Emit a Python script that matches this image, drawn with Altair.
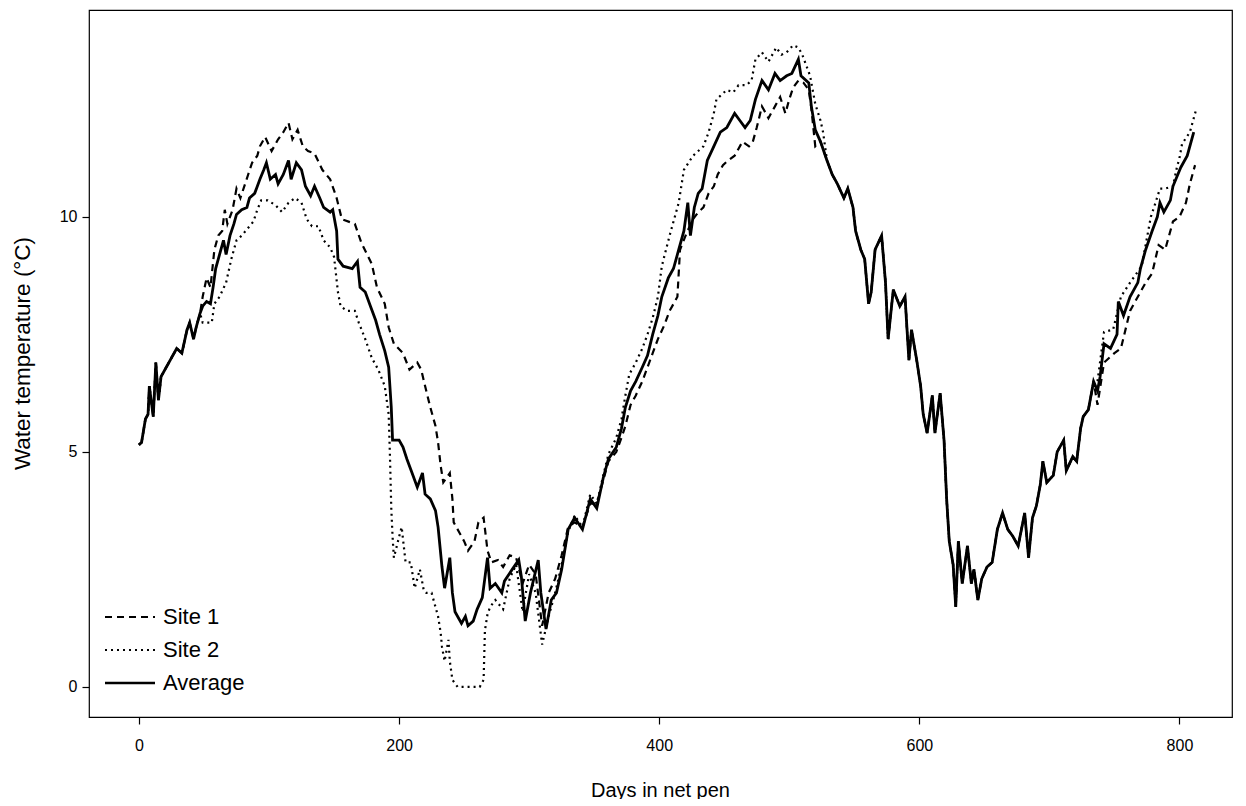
import altair as alt
import pandas as pd

# ---------------- data ----------------
# Segment where all three series lie on top of each other (start)
start_days = [0, 2, 5, 7, 8, 11, 13, 15, 17, 21, 25, 29, 33, 37, 39, 42, 44, 47]
start_temps = [5.15, 5.2, 5.7, 5.8, 6.4, 5.75, 6.9, 6.1, 6.6, 6.8, 7.0, 7.2, 7.1, 7.6, 7.75, 7.4, 7.65, 7.95]

# Segment where all three series lie on top of each other (late)
late_days = [529, 533, 537, 542, 545, 549, 551, 555, 558, 561, 563, 566, 571, 574, 576, 580,
             585, 589, 592, 594, 598, 601, 603, 606, 610, 612, 616, 619, 621, 623, 626, 628,
             630, 633, 637, 640, 642, 645, 648, 652, 656, 660, 664, 668, 672, 676, 681, 684,
             687, 690, 693, 695, 698, 703, 706, 711, 713, 718, 721, 724, 726, 730, 734]
late_temps = [11.2, 10.9, 10.7, 10.4, 10.6, 10.2, 9.7, 9.3, 9.1, 8.15, 8.4, 9.3, 9.6, 8.6, 7.4, 8.45,
              8.1, 8.3, 6.95, 7.6, 6.95, 6.4, 5.8, 5.4, 6.2, 5.4, 6.25, 5.25, 4.0, 3.1, 2.6, 1.7,
              3.1, 2.2, 3.0, 2.2, 2.5, 1.85, 2.3, 2.55, 2.65, 3.35, 3.7, 3.35, 3.2, 3.0, 3.7, 2.75,
              3.6, 3.85, 4.3, 4.8, 4.35, 4.5, 5.0, 5.25, 4.6, 4.9, 4.8, 5.5, 5.75, 5.9, 6.5]

avg_days = [49, 52, 55, 57, 59, 62, 65, 67, 70, 73, 75, 79, 83, 85, 89, 93, 96, 98, 101, 105,
            107, 111, 115, 117, 121, 125, 128, 132, 135, 139, 142, 147, 149, 152, 153, 157, 164,
            168, 170, 174, 178, 182, 185, 189, 192, 194, 195, 200, 203, 206, 210, 214, 218, 220,
            224, 228, 230, 233, 235, 239, 241, 243, 248, 251, 253, 257, 260, 264, 268, 270, 274,
            279, 281, 287, 292, 294, 297, 301, 307, 309, 313, 317, 321, 325, 330, 335, 341, 347,
            352, 357, 361, 367, 371, 374, 378, 382, 387, 391, 395, 399, 402, 407, 411, 415, 419,
            422, 424, 427, 430, 433, 437, 442, 447, 452, 458, 462, 466, 470, 474, 479, 484, 489,
            493, 498, 502, 507, 509, 515, 517, 520, 524]
avg_temps = [8.1, 8.2, 8.15, 8.5, 8.9, 9.2, 9.5, 9.2, 9.6, 9.85, 10.05, 10.15, 10.2, 10.4, 10.5,
             10.8, 11.0, 11.15, 10.8, 10.9, 10.7, 10.9, 11.2, 10.8, 11.15, 11.0, 10.65, 10.45,
             10.65, 10.4, 10.2, 10.1, 10.15, 9.7, 9.1, 8.95, 8.9, 9.05, 8.5, 8.4, 8.1, 7.8, 7.5,
             7.15, 6.8, 5.95, 5.25, 5.25, 5.1, 4.85, 4.55, 4.25, 4.55, 4.1, 4.0, 3.75, 3.4, 2.55,
             2.1, 2.75, 2.0, 1.6, 1.35, 1.5, 1.3, 1.4, 1.65, 1.9, 2.75, 2.1, 2.2, 2.0, 2.25, 2.5,
             2.7, 2.35, 1.4, 2.0, 2.7, 2.0, 1.23, 1.85, 2.0, 2.5, 3.35, 3.6, 3.35, 4.0, 3.8, 4.45,
             4.85, 5.1, 5.5, 5.95, 6.3, 6.5, 6.8, 7.05, 7.5, 7.9, 8.3, 8.7, 8.9, 9.3, 9.7, 10.3,
             9.6, 10.2, 10.5, 10.6, 11.2, 11.5, 11.8, 11.9, 12.2, 12.05, 11.9, 12.05, 12.5, 12.9,
             12.7, 13.05, 12.9, 13.0, 13.05, 13.35, 13.0, 12.85, 12.35, 11.85, 11.6]
avg_end_days = [737, 739, 742, 747, 752, 753, 757, 762, 768, 770, 774, 779, 783, 785, 788, 793,
                795, 801, 806, 811]
avg_end_temps = [6.3, 6.6, 7.3, 7.2, 7.5, 8.2, 7.9, 8.3, 8.6, 8.9, 9.3, 9.7, 10.0, 10.3, 10.1,
                 10.35, 10.65, 11.05, 11.3, 11.8]

site1_days = [49, 52, 55, 58, 61, 64, 66, 68, 72, 75, 78, 84, 87, 91, 93, 97, 102, 107, 111, 115,
              118, 122, 126, 130, 135, 141, 147, 152, 156, 166, 171, 179, 183, 189, 192, 196, 203,
              208, 214, 217, 220, 224, 228, 230, 232, 234, 239, 241, 242, 246, 250, 253, 258, 261,
              265, 268, 271, 276, 280, 285, 290, 295, 300, 305, 310, 315, 320, 325, 330, 335, 341,
              347, 352, 357, 361, 367, 371, 374, 378, 382, 387, 391, 395, 399, 404, 408, 414, 416,
              421, 426, 430, 434, 438, 442, 445, 449, 453, 458, 461, 464, 469, 472, 475, 479, 484,
              489, 493, 497, 500, 503, 507, 511, 515, 517, 520, 524]
site1_temps = [8.3, 8.7, 8.5, 9.3, 9.6, 9.7, 10.15, 9.85, 10.15, 10.6, 10.4, 10.9, 11.15, 11.3,
               11.5, 11.7, 11.4, 11.65, 11.8, 12.0, 11.65, 11.85, 11.5, 11.4, 11.35, 11.0, 10.8,
               10.4, 9.95, 9.85, 9.45, 9.0, 8.5, 8.15, 7.65, 7.3, 7.1, 6.75, 6.9, 6.75, 6.4, 5.95,
               5.55, 5.2, 4.7, 4.35, 4.55, 4.0, 3.5, 3.3, 3.1, 2.9, 3.1, 3.5, 3.6, 2.9, 2.65, 2.7,
               2.55, 2.8, 2.75, 2.2, 2.6, 2.4, 1.3, 2.0, 2.3, 2.8, 3.4, 3.5, 3.4, 3.9, 3.9, 4.4,
               4.8, 5.0, 5.3, 5.55, 6.0, 6.2, 6.5, 6.8, 7.1, 7.4, 7.7, 8.0, 8.3, 9.3, 9.65, 9.95,
               10.1, 10.2, 10.5, 10.65, 10.9, 11.1, 11.2, 11.3, 11.45, 11.6, 11.5, 11.6, 11.9,
               12.35, 12.1, 12.35, 12.55, 12.2, 12.5, 12.75, 12.9, 12.85, 12.7, 12.3, 11.5, 11.6]
site1_end_days = [737, 742, 750, 755, 762, 768, 774, 779, 784, 789, 795, 800, 805, 808, 812]
site1_end_temps = [6.0, 6.9, 7.1, 7.2, 8.0, 8.3, 8.6, 8.8, 9.4, 9.3, 9.9, 10.0, 10.3, 10.7, 11.1]

site2_days = [49, 56, 58, 62, 67, 71, 75, 79, 85, 88, 91, 94, 99, 105, 110, 115, 120, 125, 129,
              133, 138, 142, 147, 150, 152, 153, 155, 160, 166, 169, 174, 179, 184, 189, 192, 193,
              194, 195, 196, 201, 202, 205, 209, 212, 216, 219, 221, 225, 228, 230, 232, 233, 235,
              238, 239, 241, 245, 262, 265, 266, 268, 270, 274, 280, 285, 290, 295, 300, 305, 310,
              315, 320, 325, 330, 335, 341, 347, 352, 357, 361, 367, 371, 374, 377, 382, 387, 391,
              395, 399, 402, 408, 415, 419, 426, 434, 438, 442, 444, 452, 457, 461, 467, 471, 474,
              479, 484, 490, 494, 498, 503, 507, 510, 512, 516, 520, 524, 526]
site2_temps = [7.75, 7.75, 8.15, 8.3, 8.6, 9.1, 9.5, 9.6, 9.8, 9.9, 10.15, 10.35, 10.35, 10.25,
               10.1, 10.3, 10.4, 10.3, 9.95, 9.8, 9.8, 9.5, 9.35, 9.15, 8.65, 8.4, 8.1, 8.0, 8.0,
               7.75, 7.4, 7.0, 6.75, 6.4, 5.8, 4.9, 3.8, 3.2, 2.75, 3.3, 3.4, 2.65, 2.65, 2.1, 2.5,
               2.05, 2.0, 2.0, 1.7, 1.5, 1.15, 0.85, 0.55, 1.0, 0.55, 0.15, 0.0, 0.0, 0.15, 1.2,
               1.55, 1.7, 1.85, 1.65, 2.3, 2.6, 1.6, 2.4, 2.0, 0.9, 1.5, 2.0, 2.6, 3.3, 3.65, 3.4,
               4.1, 3.9, 4.5, 4.95, 5.3, 5.7, 6.2, 6.65, 6.9, 7.2, 7.5, 7.85, 8.3, 8.95, 9.6,
               10.3, 11.0, 11.3, 11.5, 11.8, 12.2, 12.5, 12.7, 12.65, 12.8, 12.8, 12.9, 13.35,
               13.5, 13.3, 13.6, 13.45, 13.5, 13.65, 13.6, 13.45, 13.3, 13.0, 12.4, 12.05, 11.8]
site2_end_days = [737, 742, 749, 755, 762, 771, 778, 781, 785, 789, 795, 798, 800, 802, 808, 810, 813]
site2_end_temps = [6.5, 7.55, 7.6, 8.3, 8.6, 8.95, 10.0, 10.25, 10.6, 10.6, 10.65, 11.05, 11.25,
                   11.55, 11.8, 12.0, 12.3]

series_names = ["Site 1", "Site 2", "Average"]
legend_labels = ["Site 1", "Site 2", "Average"]
x_ticks = [0, 200, 400, 600, 800]
y_ticks = [0, 5, 10]


def build(name, mid_d, mid_t, end_d, end_t):
    d = start_days + mid_d + late_days + end_d
    t = start_temps + mid_t + late_temps + end_t
    return pd.DataFrame({"day": d, "temp": t, "series": name})


df_s1 = build(series_names[0], site1_days, site1_temps, site1_end_days, site1_end_temps)
df_s2 = build(series_names[1], site2_days, site2_temps, site2_end_days, site2_end_temps)
df_av = build(series_names[2], avg_days, avg_temps, avg_end_days, avg_end_temps)

FONT = "Liberation Sans"
W, H = 1143, 707

xs = alt.Scale(domain=[-38.4, 840.4], nice=False, zero=False)
ys = alt.Scale(domain=[-0.64, 14.4], nice=False, zero=False)

x_enc = alt.X("day:Q", scale=xs, axis=alt.Axis(
    values=x_ticks, title="Days in net pen", domain=False, grid=False,
    tickSize=7, tickColor="black", tickWidth=1.2, labelPadding=13, labelFontSize=16,
    labelColor="black", labelFont=FONT, titleFont=FONT, titleFontSize=20,
    titleFontWeight="normal", titleColor="black", titleX=571, titleY=73,
    titleBaseline="middle", titleAlign="center"))
y_enc = alt.Y("temp:Q", scale=ys, axis=alt.Axis(
    values=y_ticks, title="Water temperature (°C)", domain=False, grid=False,
    tickSize=7, tickColor="black", tickWidth=1.2, labelPadding=5, labelFontSize=16,
    labelColor="black", labelFont=FONT, titleFont=FONT, titleFontSize=22.5,
    titleFontWeight="normal", titleColor="black", titleX=-67, titleY=343,
    titleAngle=270, titleBaseline="middle", titleAlign="center"))


def line(df, dash, width):
    kw = dict(color="black", strokeWidth=width, strokeCap="butt", strokeJoin="miter",
              interpolate="linear")
    if dash:
        kw["strokeDash"] = dash
    return alt.Chart(df).mark_line(**kw).encode(x=x_enc, y=y_enc, order="day:Q")


l1 = line(df_s1, [7, 5], 2.2)
l2 = line(df_s2, [2, 4], 2.2)
l3 = line(df_av, None, 2.8)

one = alt.Data(values=[{"k": 1}])
leg_y = [607, 640, 673]
dashes = [[7, 5], [2, 4], None]
leg_layers = []
for lab, yy, dsh in zip(legend_labels, leg_y, dashes):
    kw = dict(color="black", strokeWidth=2 if dsh else 2.5, strokeCap="butt")
    if dsh:
        kw["strokeDash"] = dsh
    leg_layers.append(alt.Chart(one).mark_rule(**kw).encode(
        x=alt.value(16), x2=alt.value(66), y=alt.value(yy)))
    leg_layers.append(alt.Chart(one).mark_text(
        align="left", baseline="middle", font=FONT, fontSize=22, color="black").encode(
        x=alt.value(74), y=alt.value(yy), text=alt.value(lab)))

chart = alt.layer(l1, l2, l3, *leg_layers).properties(
    width=W, height=H,
    background="white",
    autosize=alt.AutoSizeParams(type="none"),
    padding={"left": 81, "top": 2, "right": 6, "bottom": 82},
).configure_view(stroke="black", strokeWidth=1.2, fill="white")

chart.save("out.html", embed_options={"renderer": "svg", "actions": False})
